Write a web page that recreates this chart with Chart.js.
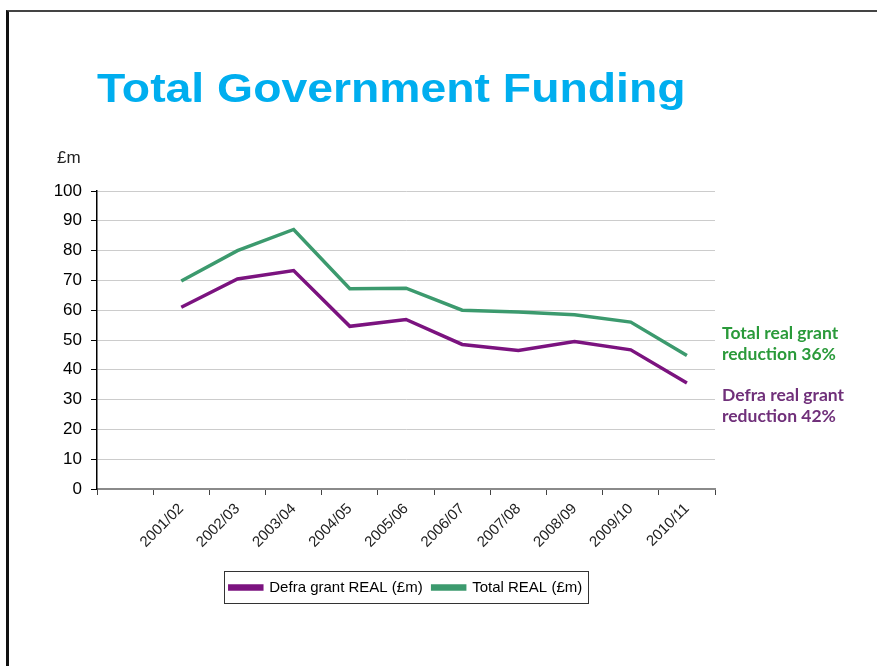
<!DOCTYPE html>
<html>
<head>
<meta charset="utf-8">
<script src="https://cdn.jsdelivr.net/npm/chart.js@4/dist/chart.umd.min.js"></script>
<style>
  html, body { margin: 0; padding: 0; background: #fff; }
  #page { position: relative; width: 877px; height: 666px; overflow: hidden; }
  #frame { position: absolute; left: 6px; top: 10px; right: -10px; bottom: -10px;
           border-left: 3px solid #111; border-top: 2px solid #444; }
  #title { position: absolute; left: 97px; top: 68px; font: bold 41px 'Liberation Sans', Arial, sans-serif;
           line-height: 1; color: #00aeef; transform: scaleX(1.13); transform-origin: left top; white-space: nowrap; }
  #unit { position: absolute; left: 57px; top: 148px; font: 17px 'Liberation Sans', Arial, sans-serif;
          line-height: 20px; color: #222; }
  .note { position: absolute; left: 722px; font: bold 17.5px Lato, 'Open Sans', sans-serif; line-height: 21px; }
  #noteTotal { top: 322px; color: #2a9a3a; }
  #noteDefra { top: 384px; color: #70307a; }
  #wrap { position: absolute; left: 0; top: 0; width: 877px; height: 666px; }
</style>
</head>
<body>
<div id="page">
  <div id="frame"></div>
  <div id="wrap"><canvas id="chart"></canvas></div>
  <div id="title">Total Government Funding</div>
  <div id="unit">£m</div>
  <div class="note" id="noteTotal">Total real grant<br>reduction 36%</div>
  <div class="note" id="noteDefra">Defra real grant<br>reduction 42%</div>
</div>
<script>
// ── Data (first slot is an empty category, as in the original axis) ──
const years = ['', '2001/02', '2002/03', '2003/04', '2004/05', '2005/06',
               '2006/07', '2007/08', '2008/09', '2009/10', '2010/11'];
const defraReal = [null, 61, 70.5, 73.3, 54.6, 56.9, 48.5, 46.5, 49.5, 46.7, 35.6];
const totalReal = [null, 69.8, 80, 87.1, 67.2, 67.4, 60, 59.4, 58.5, 56, 44.8];
const yTicks = { min: 0, max: 100, step: 10 };

const PURPLE = '#7b137f';
const GREEN = '#3c9a6e';

// draws the thin box round the legend, like the Excel one
const legendBox = {
  id: 'legendBox',
  afterDraw(chart) {
    const lg = chart.legend;
    if (!lg || !lg.legendHitBoxes.length) return;
    const hb = lg.legendHitBoxes;
    const left = Math.min(...hb.map(h => h.left));
    const right = Math.max(...hb.map(h => h.left + h.width));
    const top = hb[0].top;
    const bottom = top + hb[0].height;
    const ctx = chart.ctx;
    ctx.save();
    ctx.strokeStyle = '#333';
    ctx.lineWidth = 1;
    ctx.strokeRect(Math.round(left - 6) + 0.5, Math.round(top - 9) + 0.5,
                   Math.round(right - left + 12), Math.round(bottom - top + 17));
    ctx.restore();
  }
};

new Chart(document.getElementById('chart'), {
  type: 'line',
  data: {
    labels: years,
    datasets: [
      {
        label: 'Defra grant REAL (£m)',
        data: defraReal,
        borderColor: PURPLE,
        backgroundColor: PURPLE,
        borderWidth: 3.5,
        pointRadius: 0,
        tension: 0,
      },
      {
        label: 'Total REAL (£m)',
        data: totalReal,
        borderColor: GREEN,
        backgroundColor: GREEN,
        borderWidth: 3.5,
        pointRadius: 0,
        tension: 0,
      }
    ]
  },
  options: {
    responsive: true,
    maintainAspectRatio: false,
    animation: false,
    layout: { padding: { left: 40, right: 162, top: 191, bottom: 61 } },
    plugins: {
      tooltip: { enabled: false },
      legend: {
        position: 'bottom',
        fullSize: false,
        labels: {
          boxWidth: 32,
          boxHeight: 3,
          padding: 10,
          color: '#000',
          font: { family: "'Liberation Sans', Arial, sans-serif", size: 15 },
        }
      },
    },
    scales: {
      x: {
        offset: true,
        grid: { offset: true, drawOnChartArea: false, drawTicks: true, tickLength: 6, tickColor: '#444' },
        border: { color: '#8a8a8a', width: 2 },
        ticks: {
          autoSkip: false,
          minRotation: 45,
          maxRotation: 45,
          padding: 5,
          color: '#222',
          font: { family: "'Liberation Sans', Arial, sans-serif", size: 15 },
        },
        afterFit: (s) => { s.height = 81; },
      },
      y: {
        min: yTicks.min,
        max: yTicks.max,
        grid: { color: '#cccccc', lineWidth: 1, tickLength: 6, tickColor: '#000' },
        border: { color: '#000', width: 1.5 },
        ticks: {
          stepSize: yTicks.step,
          padding: 9,
          color: '#000',
          font: { family: "'Liberation Sans', Arial, sans-serif", size: 17 },
        },
        afterFit: (s) => { s.width = 57; },
      }
    }
  },
  plugins: [legendBox]
});
</script>
</body>
</html>
